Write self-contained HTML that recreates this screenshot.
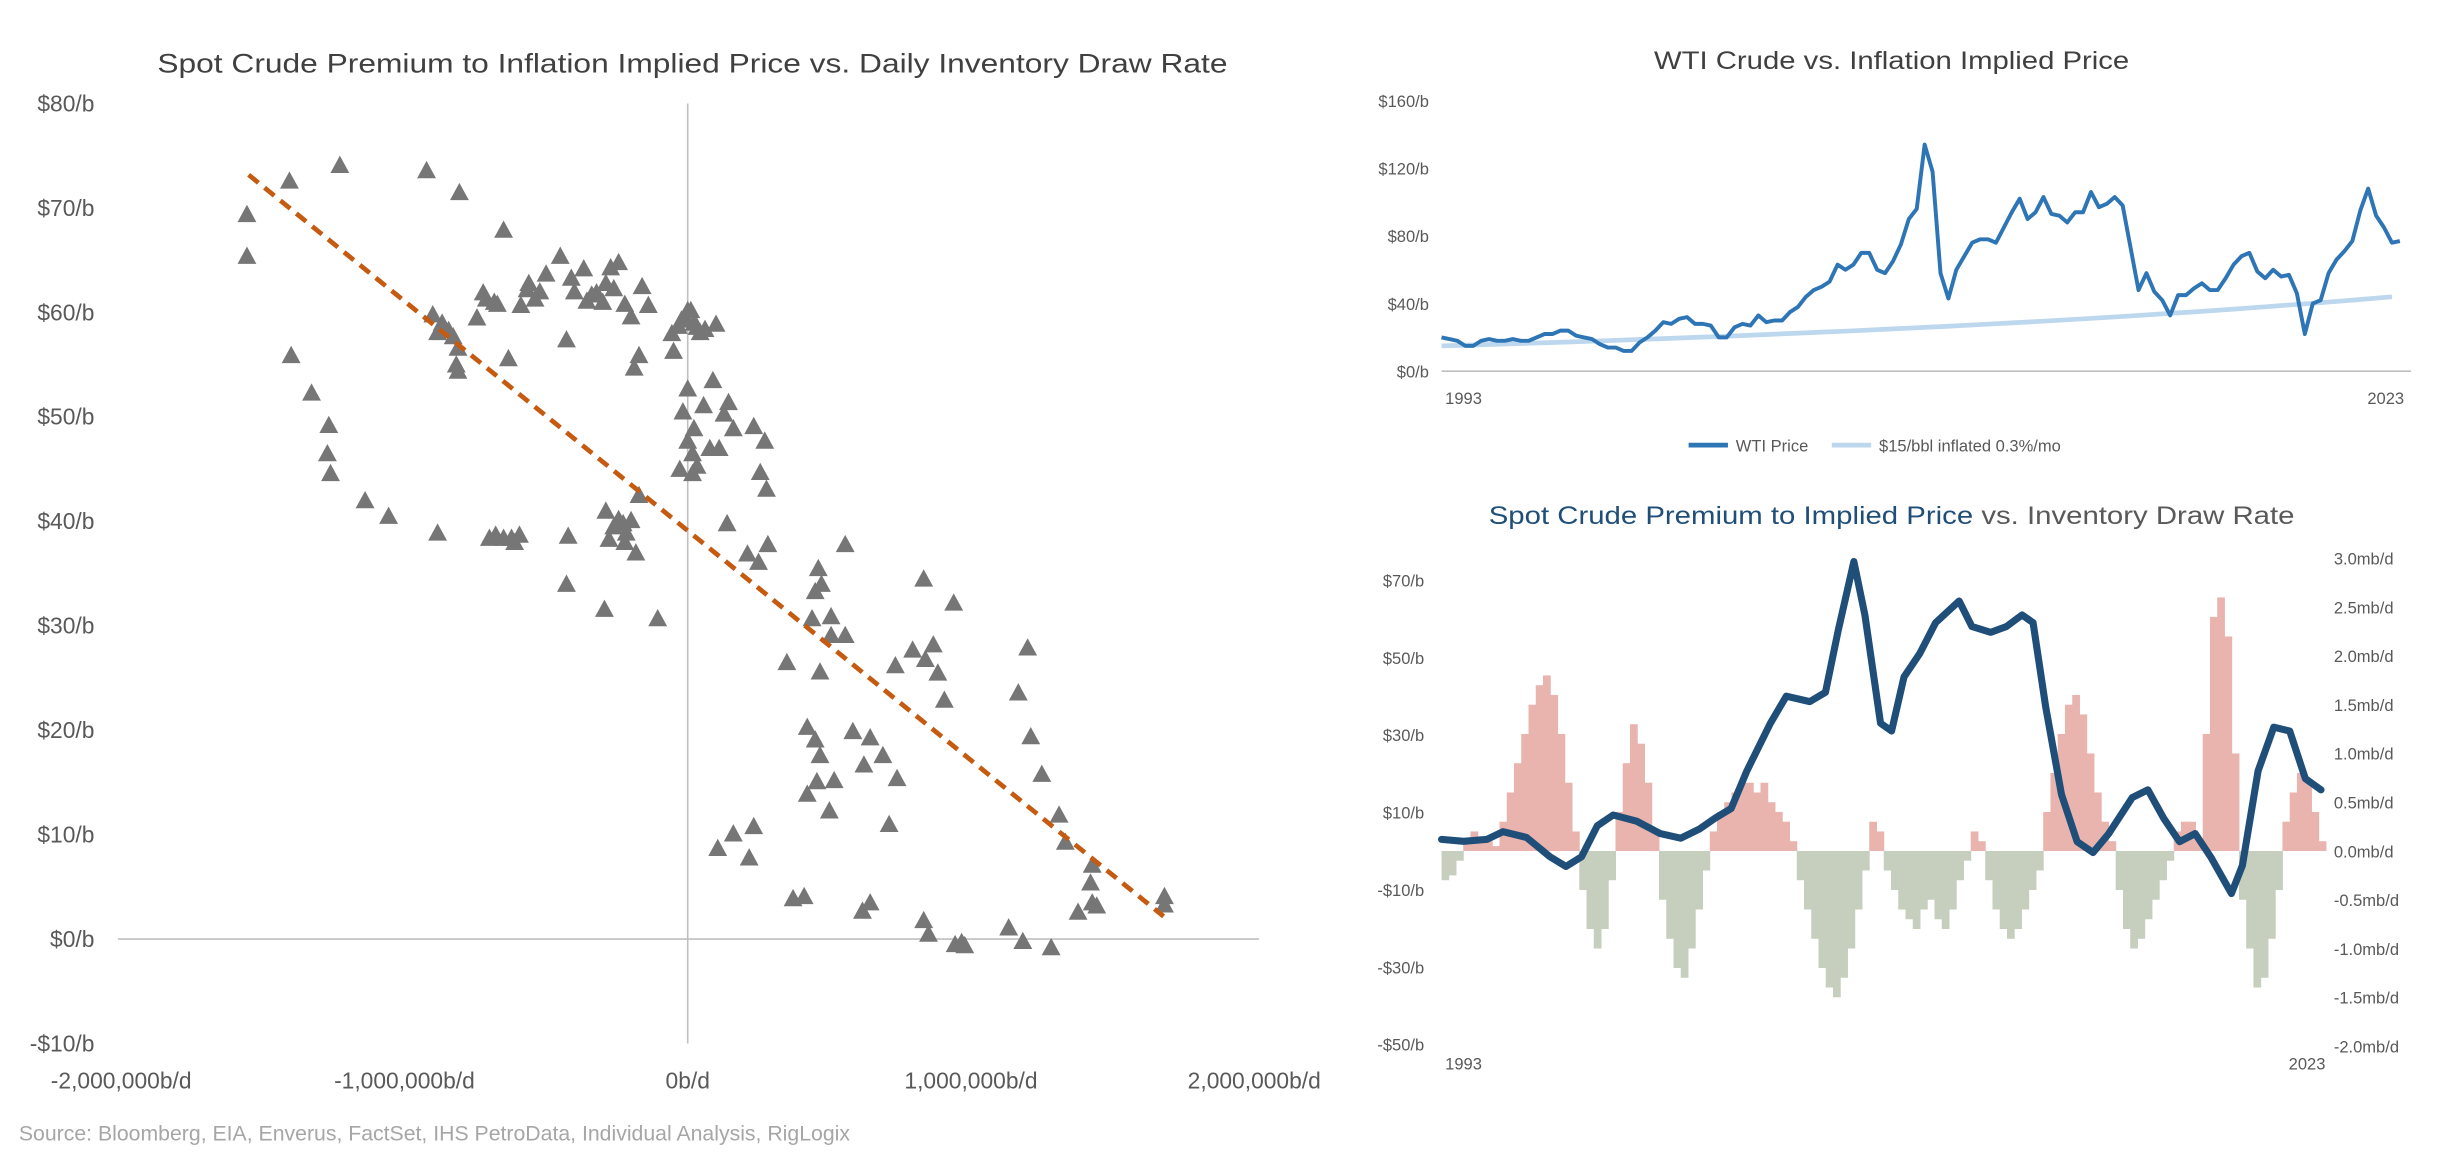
<!DOCTYPE html>
<html><head><meta charset="utf-8"><style>
html,body{margin:0;padding:0;background:#fff;}
svg{display:block;font-family:"Liberation Sans",Arial,sans-serif;}
</style></head><body>
<svg id="s" width="2455" height="1164" viewBox="0 0 1560 740" preserveAspectRatio="none" xmlns="http://www.w3.org/2000/svg">
<rect width="1560" height="740" fill="#fff"/>
<text x="440" y="46" text-anchor="middle" font-size="17" fill="#404040" textLength="680" lengthAdjust="spacingAndGlyphs">Spot Crude Premium to Inflation Implied Price vs. Daily Inventory Draw Rate</text>
<text x="1202" y="44" text-anchor="middle" font-size="16" fill="#404040" textLength="302" lengthAdjust="spacingAndGlyphs">WTI Crude vs. Inflation Implied Price</text>
<text x="1202" y="333" text-anchor="middle" font-size="16" textLength="512" lengthAdjust="spacingAndGlyphs"><tspan fill="#1f4e79">Spot Crude Premium to Implied Price</tspan><tspan fill="#595959"> vs. Inventory Draw Rate</tspan></text>
<text x="12" y="725" font-size="13.5" fill="#a6a6a6">Source: Bloomberg, EIA, Enverus, FactSet, IHS PetroData, Individual Analysis, RigLogix</text>
<g id="g1"></g><g id="g2"></g><g id="g3"></g>
</svg>
<script>
// ---- scatter data ----
const drawRateK=[-1556,-1556,-1406,-1228,-1400,-1328,-1267,-1272,-1261,-1139,-1056,-883,-922,-806,-900,-883,-867,-844,-828,-811,-817,-811,-744,-722,-711,-683,-672,-650,-633,-589,-561,-539,-522,-500,-567,-678,-650,-622,-611,-594,-700,-422,-450,-428,-411,-400,-367,-356,-339,-322,-300,-289,-272,-261,-244,-222,-200,-189,-172,-161,-139,-289,-278,-261,-244,-228,-222,-217,-200,-183,-172,-428,-294,-106,-50,-56,-33,-22,-11,0,11,22,33,44,61,100,-28,-17,0,0,17,17,22,33,56,78,89,111,128,144,161,139,233,272,256,278,211,250,283,350,422,456,517,500,106,161,217,233,372,411,617,644,450,467,422,467,439,450,461,472,506,506,556,556,583,622,644,689,711,739,733,839,833,794,867,883,906,939,833,850,944,978,967,1133,1183,1283,1167,1211,1200,1250,1311,1333,1378,1422,1428,1444,1428,1683,1683];
const premiumUsd=[69.4,65.4,72.6,74.1,55.9,52.3,49.2,46.5,44.6,42.0,40.5,38.9,73.6,71.5,59.8,58.1,59.0,58.3,57.7,56.6,55.0,54.4,59.5,61.9,61.3,61.0,60.8,67.9,55.6,60.7,62.8,61.3,62.0,63.7,62.2,38.7,38.4,38.4,38.0,38.7,38.4,38.6,65.4,57.4,63.3,62.0,64.2,61.1,61.7,61.9,61.0,62.8,64.3,62.3,64.8,60.8,59.6,54.7,55.9,62.5,60.7,41.0,38.3,39.5,40.2,39.8,38.0,38.9,40.1,37.0,42.5,34.0,31.6,30.7,56.3,58.0,58.7,59.3,59.6,60.2,60.2,59.0,58.6,58.1,58.4,58.9,45.0,50.5,52.7,47.7,46.5,44.6,48.9,45.3,51.1,47.0,53.5,47.0,50.3,51.4,48.9,39.8,49.1,47.7,44.7,43.1,36.9,36.1,37.8,26.5,13.9,15.1,15.2,12.3,8.7,10.1,7.8,10.8,3.9,4.1,2.7,3.5,19.1,17.6,20.3,25.6,30.7,33.3,35.5,34.0,30.9,29.1,37.8,29.1,19.9,16.7,19.3,17.6,11.0,15.4,26.2,26.8,34.5,27.7,28.2,25.5,22.9,32.2,1.8,0.5,-0.5,-0.6,-0.3,1.1,-0.2,-0.8,23.6,19.4,27.9,15.8,11.9,9.3,2.6,5.4,7.1,3.2,3.5,4.1,3.3];
const trendEnds=[-1550,1680];
const trendIntercept=39.1, trendSlope=-0.02198;
const scYTicks=[80,70,60,50,40,30,20,10,0,-10];
const scYLabels=["$80/b","$70/b","$60/b","$50/b","$40/b","$30/b","$20/b","$10/b","$0/b","-$10/b"];
const scXTicks=[-2000,-1000,0,1000,2000];
const scXLabels=["-2,000,000b/d","-1,000,000b/d","0b/d","1,000,000b/d","2,000,000b/d"];
// ---- WTI data (quarterly from 1993) ----
const wtiQuarterly=[20,19,18,15,15,18,19,18,18,19,18,18,20,22,22,24,24,21,20,19,16,14,14,12,12,17,20,24,29,28,31,32,28,28,27,20,20,26,28,27,33,29,30,30,35,38,44,48,50,53,63,60,63,70,70,60,58,65,75,90,96,134,118,58,43,60,68,76,78,78,76,85,94,102,90,94,103,93,92,88,94,94,106,97,99,103,98,73,48,58,47,42,33,45,45,49,52,48,48,55,63,68,70,59,55,60,56,57,46,22,40,42,58,66,71,77,95,108,92,85,76,77];
const inflatedAnnual=[15,15.5,16.1,16.7,17.3,17.9,18.6,19.3,20.0,20.7,21.5,22.3,23.1,23.9,24.8,25.7,26.6,27.6,28.6,29.6,30.7,31.8,33.0,34.2,35.4,36.7,38.1,39.5,40.9,42.4,44.0];
const wtiYTicks=[160,120,80,40,0];
const wtiYLabels=["$160/b","$120/b","$80/b","$40/b","$0/b"];
// ---- premium vs draw ----
const drawQuarterly=[-0.3,-0.25,-0.1,0.1,0.2,0.15,0.1,0.05,0.3,0.6,0.9,1.2,1.5,1.7,1.8,1.6,1.2,0.7,0.2,-0.4,-0.8,-1.0,-0.8,-0.3,0.4,0.9,1.3,1.1,0.7,0.2,-0.5,-0.9,-1.2,-1.3,-1.0,-0.6,-0.2,0.2,0.4,0.5,0.6,0.7,0.7,0.6,0.7,0.5,0.4,0.3,0.1,-0.3,-0.6,-0.9,-1.2,-1.4,-1.5,-1.3,-1.0,-0.6,-0.2,0.3,0.2,-0.2,-0.4,-0.6,-0.7,-0.8,-0.6,-0.5,-0.7,-0.8,-0.6,-0.3,-0.1,0.2,0.1,-0.3,-0.6,-0.8,-0.9,-0.8,-0.6,-0.4,-0.2,0.4,0.8,1.2,1.5,1.6,1.4,1.0,0.6,0.3,0.1,-0.4,-0.8,-1.0,-0.9,-0.7,-0.5,-0.3,-0.1,0.2,0.3,0.3,0.1,1.2,2.4,2.6,2.2,1.0,-0.5,-1.0,-1.4,-1.3,-0.9,-0.4,0.3,0.6,0.8,0.7,0.4,0.1];
const premYears=[1993.0,1993.76,1994.57,1995.12,1995.93,1996.74,1997.29,1997.83,1998.37,1998.92,1999.73,2000.54,2001.25,2001.90,2002.44,2002.99,2003.53,2004.34,2004.89,2005.70,2006.24,2006.68,2007.22,2007.60,2008.14,2008.52,2008.95,2009.49,2010.04,2010.85,2011.29,2011.94,2012.48,2013.02,2013.40,2013.84,2014.38,2014.92,2015.47,2016.01,2016.82,2017.36,2017.90,2018.45,2018.99,2019.53,2020.24,2020.62,2021.16,2021.70,2022.25,2022.79,2023.33];
const premValues=[3,2.5,3,5,3.5,-1.5,-4,-1.5,6.5,9.3,7.7,4.5,3.3,5.7,8.5,11,20.7,33,40,38.6,41,57,74.8,61,33,31,45,51,59,64.6,58,56.5,58,61,59,37,14.6,2.4,-0.4,4.5,13.8,15.8,8.5,2.4,4.5,-1.6,-11,-3.7,20.7,32,31,18.7,15.8];
const premLTicks=[70,50,30,10,-10,-30,-50];
const premLLabels=["$70/b","$50/b","$30/b","$10/b","-$10/b","-$30/b","-$50/b"];
const drawRTicks=[3,2.5,2,1.5,1,0.5,0,-0.5,-1,-1.5,-2];
const drawRLabels=["3.0mb/d","2.5mb/d","2.0mb/d","1.5mb/d","1.0mb/d","0.5mb/d","0.0mb/d","-0.5mb/d","-1.0mb/d","-1.5mb/d","-2.0mb/d"];

const NS="http://www.w3.org/2000/svg";
function mk(p,tag,at,txt){const e=document.createElementNS(NS,tag);for(const k in at)e.setAttribute(k,at[k]);if(txt!==undefined)e.textContent=txt;p.appendChild(e);return e;}

// ---- scatter ----
const g1=document.getElementById('g1');
const sx=v=>437+v/1000*180, sy=v=>597-v*6.64;
let e;
e=mk(g1,'line',{x1:sx(0),x2:sx(0),y1:sy(80),y2:sy(-10),stroke:'#bfbfbf','stroke-width':1});


e=mk(g1,'line',{x1:75,x2:800,y1:sy(0),y2:sy(0),stroke:'#bfbfbf','stroke-width':1});


scYTicks.forEach((t,i)=>{e=mk(g1,'text',{x:60,y:sy(t)+5,'text-anchor':'end','font-size':14.5,fill:'#595959'},scYLabels[i]);

});
scXTicks.forEach((t,i)=>{e=mk(g1,'text',{x:sx(t),y:692,'text-anchor':'middle','font-size':14.5,fill:'#595959'},scXLabels[i]);

});
drawRateK.forEach((v,i)=>{const cx=sx(v),cy=sy(premiumUsd[i]);
e=mk(g1,'path',{d:`M${cx-6},${cy+5}L${cx+6},${cy+5}L${cx},${cy-6}Z`,fill:'#767676'});

});
e=mk(g1,'line',{x1:sx(trendEnds[0]),y1:sy(trendIntercept+trendSlope*trendEnds[0]),x2:sx(trendEnds[1]),y2:sy(trendIntercept+trendSlope*trendEnds[1]),stroke:'#c55a11','stroke-width':3,'stroke-dasharray':'8,5'});



// ---- WTI ----
const g2=document.getElementById('g2');
const tx=t=>916+(t-1993)/30.5*614, ty=v=>236-v*1.075;
wtiYTicks.forEach((t,i)=>{e=mk(g2,'text',{x:908,y:ty(t)+4,'text-anchor':'end','font-size':10.5,fill:'#595959'},wtiYLabels[i]);

});
e=mk(g2,'line',{x1:916,x2:1532,y1:ty(0),y2:ty(0),stroke:'#bfbfbf'});


e=mk(g2,'text',{x:930,y:257,'text-anchor':'middle','font-size':10.5,fill:'#595959'},'1993');


e=mk(g2,'text',{x:1516,y:257,'text-anchor':'middle','font-size':10.5,fill:'#595959'},'2023');


e=mk(g2,'polyline',{points:inflatedAnnual.map((v,i)=>tx(1993+i)+','+ty(v)).join(' '),fill:'none',stroke:'#bdd7ee','stroke-width':3});


e=mk(g2,'polyline',{points:wtiQuarterly.map((v,i)=>tx(1993+i/4)+','+ty(v)).join(' '),fill:'none',stroke:'#2e75b6','stroke-width':2.5,'stroke-linejoin':'round'});


e=mk(g2,'line',{x1:1073,x2:1098,y1:283,y2:283,stroke:'#2e75b6','stroke-width':3});


e=mk(g2,'text',{x:1103,y:287,'font-size':10.5,fill:'#595959'},'WTI Price');


e=mk(g2,'line',{x1:1164,x2:1189,y1:283,y2:283,stroke:'#bdd7ee','stroke-width':3});


e=mk(g2,'text',{x:1194,y:287,'font-size':10.5,fill:'#595959'},'$15/bbl inflated 0.3%/mo');



// ---- premium vs draw ----
const g3=document.getElementById('g3');
const bx=t=>916+(t-1993)/30.5*562, by=v=>541-v*2.46, br=v=>541-v*62;
premLTicks.forEach((t,i)=>{e=mk(g3,'text',{x:905,y:by(t)+4,'text-anchor':'end','font-size':10.5,fill:'#595959'},premLLabels[i]);

});
drawRTicks.forEach((t,i)=>{e=mk(g3,'text',{x:1483,y:br(t)+4,'font-size':10.5,fill:'#595959'},drawRLabels[i]);

});
const bw=562/122;
drawQuarterly.forEach((v,i)=>{const x0=bx(1993+i/4);
e=mk(g3,'rect',{x:x0,width:bw+0.3,y:Math.min(br(v),br(0)),height:Math.abs(br(v)-br(0)),fill:v>=0?'#e9b3ae':'#c6cfbd'});

});
e=mk(g3,'text',{x:930,y:680,'text-anchor':'middle','font-size':10.5,fill:'#595959'},'1993');


e=mk(g3,'text',{x:1466,y:680,'text-anchor':'middle','font-size':10.5,fill:'#595959'},'2023');


e=mk(g3,'polyline',{points:premYears.map((t,i)=>bx(t)+','+by(premValues[i])).join(' '),fill:'none',stroke:'#1f4e79','stroke-width':4.5,'stroke-linejoin':'round','stroke-linecap':'round'});


</script>
</body></html>
